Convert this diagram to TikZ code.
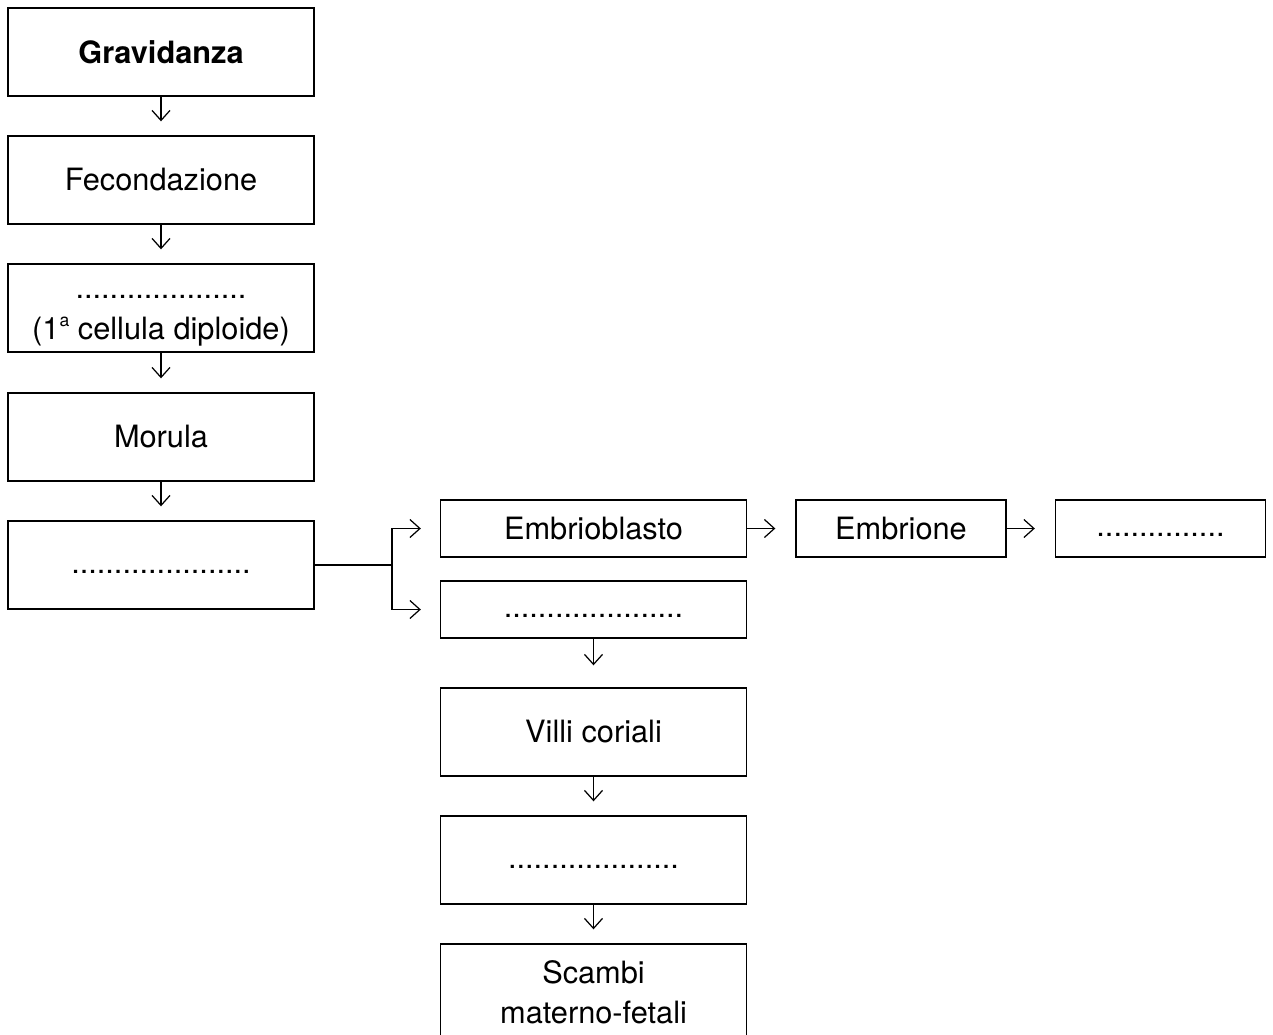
\documentclass[tikz,border=0pt]{standalone}
\usepackage{fontspec}
\setmainfont{TeX Gyre Heros}
\usetikzlibrary{arrows.meta}

\tikzset{
  gvbox/.style={draw, line width=0.8pt, align=center, minimum width=6.12cm, minimum height=1.76cm, font=\fontsize{17.5}{23}\selectfont, inner sep=0pt},
  gvsmall/.style={gvbox, minimum height=1.14cm},
  gvnarrow/.style={gvsmall, minimum width=4.2cm},
  gvarr/.style={-{Straight Barb[length=0.2cm, width=0.36cm, line width=0.7pt]}, line width=0.7pt, shorten >=0.28cm},
  gvharr/.style={gvarr, shorten >=0.4cm},
  gvline/.style={line width=0.7pt}
}

\newcommand{\gvdots}[1]{\strut\foreach \i in {1,...,#1}{.}}
\newcommand{\gvsup}[1]{\raisebox{0.42em}{\fontsize{10}{10}\selectfont #1}}

\begin{document}
\begin{tikzpicture}[x=0.02cm,y=-0.02cm]
        \useasboundingbox (0,0) rectangle (1273,1034);

        \node[gvbox, font=\fontsize{17.5}{23}\selectfont\bfseries] (grav) at (161,52) {Gravidanza};
        \node[gvbox] (fec) at (161,180) {Fecondazione};
        \node[gvbox] (zig) at (161,308) {\gvdots{20}\\(1\gvsup{a} cellula diploide)};
        \node[gvbox] (mor) at (161,437) {Morula};
        \node[gvbox] (bla) at (161,565) {\gvdots{21}};

        \node[gvsmall] (emb) at (593.5,528.5) {Embrioblasto};
        \node[gvsmall] (tro) at (593.5,609.5) {\gvdots{21}};
        \node[gvbox] (vil) at (593.5,732) {Villi coriali};
        \node[gvbox] (pla) at (593.5,860) {\gvdots{20}};
        \node[gvbox, minimum height=1.92cm] (sca) at (593.5,992) {Scambi\\materno-fetali};

        \node[gvnarrow] (embr) at (901,528.5) {Embrione};
        \node[gvnarrow] (fin) at (1160.5,528.5) {\gvdots{15}};

        \coordinate (split) at (392,565);

        \draw[gvarr] (grav) -- (fec);
        \draw[gvarr] (fec) -- (zig);
        \draw[gvarr] (zig) -- (mor);
        \draw[gvarr] (mor) -- (bla);

        \draw[gvline] (bla) -- (split);
        \draw[gvharr, shorten >=0.38cm] (split) |- (emb);
        \draw[gvharr, shorten >=0.38cm] (split) |- (tro);

        \draw[gvharr] (emb) -- (embr);
        \draw[gvharr] (embr) -- (fin);

        \draw[gvarr, shorten >=0.44cm] (tro) -- (vil);
        \draw[gvarr] (vil) -- (pla);
        \draw[gvarr] (pla) -- (sca);
    \end{tikzpicture}
\end{document}
